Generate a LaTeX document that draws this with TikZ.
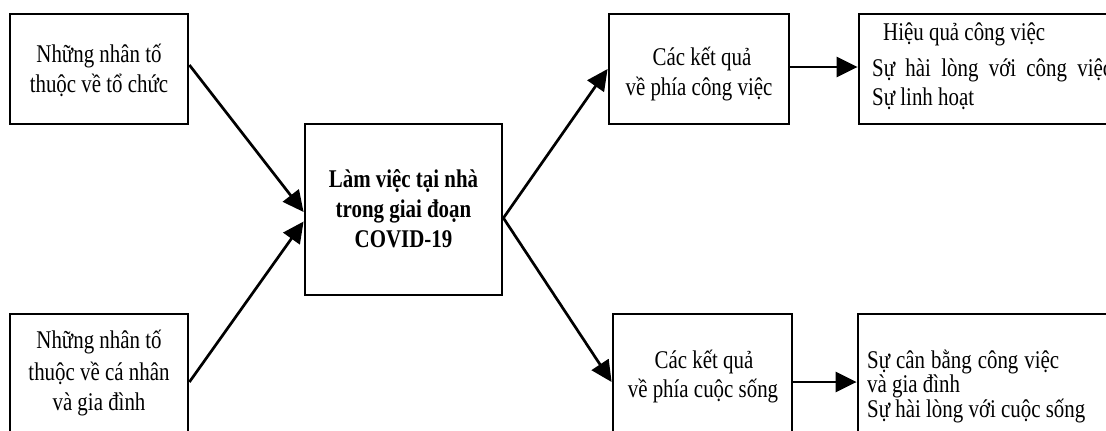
\documentclass[tikz,border=0pt]{standalone}
\usepackage{fontspec}
\setmainfont{Liberation Serif}[FakeStretch=0.82]
\usetikzlibrary{arrows.meta,calc}
\tikzset{
  box/.style={draw, line width=2.8pt, fill=white, inner sep=0pt},
  txt/.style={inner sep=0pt, anchor=base, font=\fontsize{25.5}{30}\selectfont},
  ltxt/.style={inner sep=0pt, anchor=base west, font=\fontsize{25.5}{30}\selectfont},
  btxt/.style={txt, font=\fontsize{25.5}{30}\selectfont\bfseries},
  link/.style={line width=2.7pt, -{Triangle[length=21pt,width=20pt]}}
}
\begin{document}
\begin{tikzpicture}[x=1pt,y=-1pt]
\useasboundingbox (0,0) rectangle (1106,431);
\fill[white] (0,0) rectangle (1106,431);
\clip (0,0) rectangle (1106,431);

% boxes
\node[box, minimum width=178pt, minimum height=110pt] (A) at (99,69) {};
\node[box, minimum width=178pt, minimum height=136pt] (B) at (99,382) {};
\node[box, minimum width=197pt, minimum height=171pt] (C) at (403.5,209.5) {};
\node[box, minimum width=180pt, minimum height=110pt] (D) at (699,69) {};
\node[box, minimum width=271pt, minimum height=110pt] (E) at (994.5,69) {};
\node[box, minimum width=179pt, minimum height=136pt] (F) at (702.5,382) {};
\node[box, minimum width=272pt, minimum height=136pt] (G) at (994,382) {};

% texts
\node[txt] (a1) at (99,62) {Những nhân tố};
\node[txt] (a2) at (99,92) {thuộc về tổ chức};

\node[txt] (b1) at (99,348) {Những nhân tố};
\node[txt] (b2) at (99,380) {thuộc về cá nhân};
\node[txt] (b3) at (99,410) {và gia đình};

\node[btxt] (c1) at (403.5,187) {Làm việc tại nhà};
\node[btxt] (c2) at (403.5,217) {trong giai đoạn};
\node[btxt] (c3) at (403.5,247) {COVID-19};

\node[txt] (d1) at (702,65) {Các kết quả};
\node[txt] (d2) at (699,95) {về phía công việc};

\node[ltxt] (e1) at (883,40) {Hiệu quả công việc};
\node[ltxt] (e2) at (872,76) {\makebox[240pt][s]{Sự hài lòng với công việc}};
\node[ltxt] (e3) at (872,105) {Sự linh hoạt};

\node[txt] (f1) at (704,368) {Các kết quả};
\node[txt] (f2) at (703,397) {về phía cuộc sống};

\node[ltxt] (g1) at (867,368) {\makebox[192pt][s]{Sự cân bằng công việc}};
\node[ltxt] (g2) at (867,392) {và gia đình};
\node[ltxt] (g3) at (867,417) {Sự hài lòng với cuộc sống};

% connectors
\draw[link] ([yshift=4pt]A.east) -- ([yshift=-2.5pt]C.west);
\draw[link] (B.east) -- ([yshift=-12pt]C.west);
\draw[link] ([yshift=-8.5pt]C.east) -- (D.west);
\draw[link] ([yshift=-8.5pt]C.east) -- (F.west);
\draw[link] ([yshift=2pt]D.east) -- ([yshift=2pt]D.east -| E.west);
\draw[link] (F.east) -- (F.east -| G.west);
\end{tikzpicture}
\end{document}
